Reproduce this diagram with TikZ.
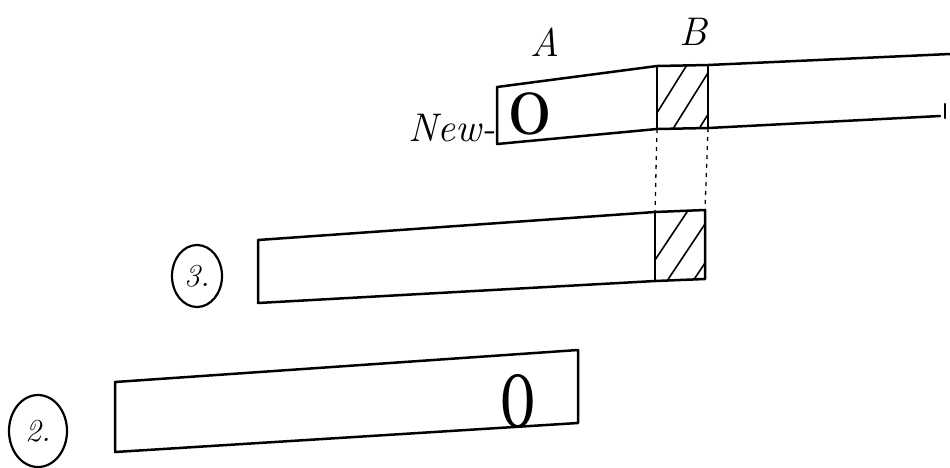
\documentclass[tikz,border=0pt]{standalone}
\usepackage{fontspec}
\usetikzlibrary{shapes.geometric}
\begin{document}
\begin{tikzpicture}[x=1pt,y=-1pt,
  bar/.style={line width=2.5pt,line join=round,line cap=round},
  hatch/.style={line width=1.6pt},
  guide/.style={line width=1.3pt,dash pattern=on 4pt off 5pt},
  lbl/.style={font=\fontsize{40}{42}\selectfont\itshape,inner sep=0pt},
  bigo/.style={font=\fontsize{60}{62}\selectfont\bfseries,inner sep=0pt},
  numc/.style={draw,line width=2.2pt,inner sep=0pt,font=\fontsize{32}{34}\selectfont\itshape}]
\useasboundingbox (0,0) rectangle (950,467);
% top bar (New)
\coordinate (t1) at (497,87);
\coordinate (t2) at (497,144);
\coordinate (bTL) at (657,66);
\coordinate (bTR) at (708,65);
\coordinate (bBL) at (657,129);
\coordinate (bBR) at (708,128);
\begin{scope}
\clip (bTL) -- (bTR) -- (bBR) -- (bBL) -- cycle;
\foreach \k in {0,1,2,3} \draw[hatch] (640+\k*26,140) -- (690+\k*26,60);
\end{scope}
\draw[bar] (950,54) -- (bTR) -- (bTL) -- (t1) -- (t2) -- (bBL) -- (bBR) -- (940,116);
\draw[bar] (bTL) -- (bBL);
\draw[bar] (bTR) -- (bBR);
\draw[bar] (945,104) -- (945,118);
\node[lbl] (A) at (545,42) {A};
\node[lbl] (B) at (693,32) {B};
\node[lbl,anchor=base east] (new) at (496,141) {New-};
\node[bigo,xscale=0.85] (o1) at (530,114) {\textbf{O}};
% bar 3
\coordinate (m1) at (258,240);
\coordinate (m2) at (258,303);
\coordinate (cTL) at (655,212);
\coordinate (cTR) at (705,210);
\coordinate (cBL) at (655,281);
\coordinate (cBR) at (705,279);
\begin{scope}
\clip (cTL) -- (cTR) -- (cBR) -- (cBL) -- cycle;
\foreach \k in {0,1,2,3} \draw[hatch] (635+\k*26,290) -- (695+\k*26,200);
\end{scope}
\draw[bar] (m1) -- (cTL) -- (cTR) -- (cBR) -- (cBL) -- (m2) -- cycle;
\draw[bar] (cTL) -- (cBL);
\node[numc,ellipse,minimum width=50pt,minimum height=62pt] (n3) at (197,276) {3.};
% dotted guides
\draw[guide] (bBL) -- (cTL);
\draw[guide] (bBR) -- (cTR);
% bar 2
\draw[bar] (115,382) -- (578,350) -- (578,423) -- (115,452) -- cycle;
\node[bigo,font=\fontsize{76}{78}\selectfont,xscale=0.55] (o2) at (518,401) {\textbf{O}};
\node[numc,ellipse,minimum width=58pt,minimum height=72pt] (n2) at (38,431) {2.};
\end{tikzpicture}
\end{document}
